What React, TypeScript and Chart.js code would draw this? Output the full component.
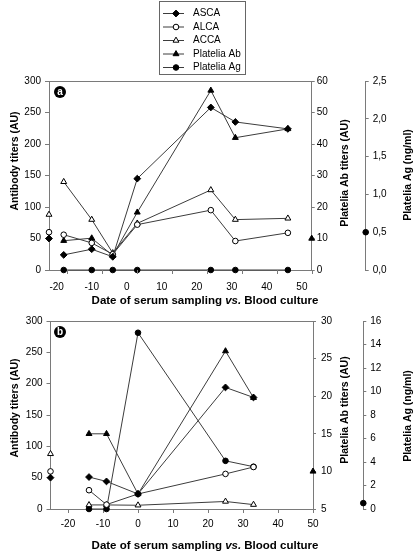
import React, { useEffect, useRef } from 'react';
import { Chart, registerables } from 'chart.js';
import { drawPoint } from 'chart.js/helpers';

Chart.register(...registerables);

const FONT = "'Liberation Sans', Arial, Helvetica, sans-serif";
const AXIS_COLOR = '#7a7a7a';
const LINE_COLOR = '#3c3c3c';

// ---------- Panel a data ----------
const DAYS_A = [-18, -10, -4, 3, 24, 31, 46];
const ASCA_A = [24, 33, 21, 145, 258, 235, 224];
const ALCA_A = [56, 43, 25, 72, 95, 46, 59];
const ACCA_A = [140, 80, 27, 74, 127, 80, 82];
const PLATELIA_AB_A = [9.3, 10.1, 4.6, 18.3, 57, 42, 44.8];
const PLATELIA_AG_A = [0, 0, 0, 0, 0, 0, 0];

// ---------- Panel b data ----------
const DAYS_B = [-14, -9, 0, 25, 33];
const ASCA_B = [51, 44, 24, 194, 178];
const ALCA_B = [30, 7, 24, 56, 67];
const ACCA_B = [6.5, 6.5, 6, 12, 7];
const PLATELIA_AB_B = [15, 15, 7, 26, 19.8];
const PLATELIA_AG_B = [0, 0, 15, 4.1, 3.6];

// ---------- cut-off values (markers on the axes) ----------
const CUTOFF_ASCA = 50;
const CUTOFF_ALCA = 60;
const CUTOFF_ACCA = 88;
const CUTOFF_AB = 10;
const CUTOFF_AG = 0.5;

// ---------- tick labels ----------
const X_TICKS = [-20, -10, 0, 10, 20, 30, 40, 50];
const LEFT_TICKS = [0, 50, 100, 150, 200, 250, 300];
const AB_TICKS_A = [0, 10, 20, 30, 40, 50, 60];
const AG_TICKS_A = [0, 0.5, 1, 1.5, 2, 2.5];
const AB_TICKS_B = [5, 10, 15, 20, 25, 30];
const AG_TICKS_B = [0, 2, 4, 6, 8, 10, 12, 14, 16];

const SERIES_LABELS = ['ASCA', 'ALCA', 'ACCA', 'Platelia Ab', 'Platelia Ag'];

type St = { pointStyle: string; radius: number; filled: boolean };
const STYLES: St[] = [
  { pointStyle: 'rectRot', radius: 3.4, filled: true },
  { pointStyle: 'circle', radius: 2.8, filled: false },
  { pointStyle: 'triangle', radius: 3.4, filled: false },
  { pointStyle: 'triangle', radius: 3.4, filled: true },
  { pointStyle: 'circle', radius: 2.8, filled: true },
];

function series(label: string, days: number[], values: number[], st: St, yAxisID: string) {
  return {
    label,
    data: days.map((d, i) => ({ x: d, y: values[i] })),
    showLine: true,
    borderColor: LINE_COLOR,
    borderWidth: 1,
    pointStyle: st.pointStyle,
    pointRadius: st.radius,
    pointBackgroundColor: st.filled ? '#000' : '#fff',
    pointBorderColor: '#000',
    pointBorderWidth: 1,
    yAxisID,
    clip: false,
  };
}

function cutoff(label: string, x: number, y: number, st: St, yAxisID: string) {
  return {
    label,
    data: [{ x, y }],
    showLine: false,
    pointStyle: st.pointStyle,
    pointRadius: st.radius,
    pointBackgroundColor: st.filled ? '#000' : '#fff',
    pointBorderColor: '#000',
    pointBorderWidth: 1,
    yAxisID,
    clip: false,
  };
}

type Panel = {
  letter: string;
  canvasTop: number;
  canvasHeight: number;
  padTop: number;
  leftW: number;
  abW: number;
  agW: number;
  xH: number;
  xMin: number;
  xMax: number;
  xTickShift: number | null;
  xLabelPad: number;
  days: number[];
  asca: number[];
  alca: number[];
  acca: number[];
  ab: number[];
  ag: number[];
  abMin: number;
  abMax: number;
  abTicks: number[];
  abPad: number;
  agMax: number;
  agTicks: number[];
  agComma: boolean;
  leftTitleY: number;
  abTitleY: number;
  agTitleY: number;
  xTitleY: number;
  letterPos: [number, number];
  legend: boolean;
};

const PANELS: Panel[] = [
  {
    letter: 'a', canvasTop: 0, canvasHeight: 310, padTop: 81,
    leftW: 49, abW: 54, agW: 47.3, xH: 40,
    xMin: -22.2, xMax: 52.8, xTickShift: 3, xLabelPad: 7,
    days: DAYS_A, asca: ASCA_A, alca: ALCA_A, acca: ACCA_A, ab: PLATELIA_AB_A, ag: PLATELIA_AG_A,
    abMin: 0, abMax: 60, abTicks: AB_TICKS_A, abPad: 2,
    agMax: 2.5, agTicks: AG_TICKS_A, agComma: true,
    leftTitleY: 161, abTitleY: 173, agTitleY: 175, xTitleY: 301,
    letterPos: [60, 92], legend: true,
  },
  {
    letter: 'b', canvasTop: 310, canvasHeight: 243, padTop: 10,
    leftW: 50.5, abW: 50.3, agW: 49.7, xH: 44,
    xMin: -25, xMax: 50, xTickShift: null, xLabelPad: 5,
    days: DAYS_B, asca: ASCA_B, alca: ALCA_B, acca: ACCA_B, ab: PLATELIA_AB_B, ag: PLATELIA_AG_B,
    abMin: 5, abMax: 30, abTicks: AB_TICKS_B, abPad: 5,
    agMax: 16, agTicks: AG_TICKS_B, agComma: false,
    leftTitleY: 408, abTitleY: 410, agTitleY: 416, xTitleY: 546,
    letterPos: [60, 332], legend: false,
  },
];

function rotText(ctx: CanvasRenderingContext2D, text: string, x: number, y: number, font: string) {
  ctx.save();
  ctx.translate(x, y);
  ctx.rotate(-Math.PI / 2);
  ctx.font = font;
  ctx.fillStyle = '#000';
  ctx.textAlign = 'center';
  ctx.textBaseline = 'middle';
  ctx.fillText(text, 0, 0);
  ctx.restore();
}

function marker(ctx: CanvasRenderingContext2D, st: St, x: number, y: number) {
  ctx.save();
  ctx.fillStyle = st.filled ? '#000' : '#fff';
  ctx.strokeStyle = '#000';
  ctx.lineWidth = 1;
  drawPoint(ctx, { pointStyle: st.pointStyle as any, radius: st.radius, borderWidth: 1, rotation: 0 } as any, x, y);
  ctx.restore();
}

function decorPlugin(p: Panel) {
  return {
    id: 'decor_' + p.letter,
    afterDraw(chart: any) {
      const ctx: CanvasRenderingContext2D = chart.ctx;
      const ca = chart.chartArea;
      const off = p.canvasTop;
      ctx.save();
      ctx.strokeStyle = AXIS_COLOR;
      ctx.lineWidth = 1;
      // top frame line
      const ty = Math.round(ca.top) + 0.5;
      ctx.beginPath();
      ctx.moveTo(ca.left, ty);
      ctx.lineTo(ca.right, ty);
      ctx.stroke();
      // shifted tick marks on x axis (panel a)
      if (p.xTickShift !== null) {
        const xs = chart.scales.x;
        for (const v of X_TICKS) {
          const val = v + p.xTickShift;
          if (val > p.xMax + 0.5) continue;
          const px = Math.round(xs.getPixelForValue(Math.min(val, p.xMax))) + 0.5;
          ctx.beginPath();
          ctx.moveTo(px, ca.bottom);
          ctx.lineTo(px, ca.bottom + 4);
          ctx.stroke();
        }
      }
      // panel letter
      const [lx, ly] = p.letterPos;
      ctx.fillStyle = '#000';
      ctx.beginPath();
      ctx.arc(lx, ly - off, 6, 0, Math.PI * 2);
      ctx.fill();
      ctx.fillStyle = '#fff';
      ctx.font = `bold 10px ${FONT}`;
      ctx.textAlign = 'center';
      ctx.textBaseline = 'middle';
      ctx.fillText(p.letter, lx, ly - off + 0.5);
      // axis titles
      const tfont = `bold 10.5px ${FONT}`;
      rotText(ctx, 'Antibody titers (AU)', 15, p.leftTitleY - off, tfont);
      rotText(ctx, 'Platelia Ab titers (AU)', 345, p.abTitleY - off, tfont);
      rotText(ctx, 'Platelia Ag (ng/ml)', 408, p.agTitleY - off, tfont);
      // x title with italic "vs."
      const fB = `bold 11.5px ${FONT}`;
      const fI = `italic bold 11.5px ${FONT}`;
      const parts: [string, string][] = [
        ['Date of serum sampling ', fB],
        ['vs.', fI],
        [' Blood culture', fB],
      ];
      let total = 0;
      for (const [t, f] of parts) { ctx.font = f; total += ctx.measureText(t).width; }
      let x = 205 - total / 2;
      ctx.fillStyle = '#000';
      ctx.textAlign = 'left';
      ctx.textBaseline = 'middle';
      for (const [t, f] of parts) {
        ctx.font = f;
        ctx.fillText(t, x, p.xTitleY - off);
        x += ctx.measureText(t).width;
      }
      // Ag cut-off on the Ag axis
      const yAg = chart.scales.yAg;
      marker(ctx, STYLES[4], yAg.left, yAg.getPixelForValue(CUTOFF_AG));
      // legend
      if (p.legend) {
        ctx.strokeStyle = '#666';
        ctx.lineWidth = 1;
        ctx.strokeRect(159.5, 1.5, 86, 73);
        ctx.font = `10px ${FONT}`;
        ctx.textAlign = 'left';
        ctx.textBaseline = 'middle';
        SERIES_LABELS.forEach((lab, i) => {
          const y = 13.5 + i * 13.5;
          ctx.strokeStyle = LINE_COLOR;
          ctx.beginPath();
          ctx.moveTo(163, y);
          ctx.lineTo(184, y);
          ctx.stroke();
          marker(ctx, STYLES[i], 176, y);
          ctx.fillStyle = '#000';
          ctx.fillText(lab, 193, y);
        });
      }
      ctx.restore();
    },
  };
}

function makeConfig(p: Panel): any {
  const datasets = [
    series(SERIES_LABELS[0], p.days, p.asca, STYLES[0], 'y'),
    series(SERIES_LABELS[1], p.days, p.alca, STYLES[1], 'y'),
    series(SERIES_LABELS[2], p.days, p.acca, STYLES[2], 'y'),
    series(SERIES_LABELS[3], p.days, p.ab, STYLES[3], 'yAb'),
    series(SERIES_LABELS[4], p.days, p.ag, STYLES[4], 'yAg'),
    cutoff('ASCA cut-off', p.xMin, CUTOFF_ASCA, STYLES[0], 'y'),
    cutoff('ALCA cut-off', p.xMin, CUTOFF_ALCA, STYLES[1], 'y'),
    cutoff('ACCA cut-off', p.xMin, CUTOFF_ACCA, STYLES[2], 'y'),
    cutoff('Platelia Ab cut-off', p.xMax, CUTOFF_AB, STYLES[3], 'yAb'),
  ];
  const gridCommon = { drawOnChartArea: false, color: AXIS_COLOR, tickLength: 4 };
  const border = { display: true, color: AXIS_COLOR, width: 1 };
  const tickFont = { family: FONT, size: 10 };
  return {
    type: 'scatter',
    data: { datasets },
    options: {
      responsive: false,
      animation: false,
      devicePixelRatio: 1,
      layout: { padding: { top: p.padTop, left: 0, right: 0, bottom: 0 } },
      plugins: { legend: { display: false }, tooltip: { enabled: false } },
      scales: {
        x: {
          type: 'linear', position: 'bottom', min: p.xMin, max: p.xMax,
          afterBuildTicks: (s: any) => { s.ticks = X_TICKS.map((v) => ({ value: v })); },
          afterFit: (s: any) => { s.height = p.xH; },
          ticks: { font: tickFont, color: '#000', padding: p.xLabelPad, maxRotation: 0 },
          grid: { ...gridCommon, color: p.xTickShift !== null ? 'rgba(0,0,0,0)' : AXIS_COLOR },
          border,
        },
        y: {
          type: 'linear', position: 'left', min: 0, max: 300,
          afterBuildTicks: (s: any) => { s.ticks = LEFT_TICKS.map((v) => ({ value: v })); },
          afterFit: (s: any) => { s.width = p.leftW; },
          ticks: { font: tickFont, color: '#000', padding: 4 },
          grid: gridCommon,
          border,
        },
        yAb: {
          type: 'linear', position: 'right', weight: 1, min: p.abMin, max: p.abMax,
          afterBuildTicks: (s: any) => { s.ticks = p.abTicks.map((v) => ({ value: v })); },
          afterFit: (s: any) => { s.width = p.abW; },
          ticks: { font: tickFont, color: '#000', padding: p.abPad },
          grid: { ...gridCommon, tickLength: 3 },
          border,
        },
        yAg: {
          type: 'linear', position: 'right', weight: 2, min: 0, max: p.agMax,
          afterBuildTicks: (s: any) => { s.ticks = p.agTicks.map((v) => ({ value: v })); },
          afterFit: (s: any) => { s.width = p.agW; },
          ticks: {
            font: tickFont, color: '#000', padding: 4,
            callback: (v: any) => (p.agComma ? Number(v).toFixed(1).replace('.', ',') : String(v)),
          },
          grid: { ...gridCommon, tickLength: 3 },
          border,
        },
      },
    },
    plugins: [decorPlugin(p)],
  };
}

function PanelChart({ p }: { p: Panel }) {
  const ref = useRef<HTMLCanvasElement | null>(null);
  useEffect(() => {
    if (!ref.current) return;
    const chart = new Chart(ref.current, makeConfig(p));
    return () => chart.destroy();
  }, [p]);
  return (
    <canvas
      ref={ref}
      width={413}
      height={p.canvasHeight}
      style={{ position: 'absolute', left: 0, top: p.canvasTop, width: 413, height: p.canvasHeight, display: 'block' }}
    />
  );
}

export default function App() {
  return (
    <div style={{ position: 'absolute', left: 0, top: 0, width: 413, height: 553, background: '#fff', overflow: 'hidden' }}>
      {PANELS.map((p) => (
        <PanelChart key={p.letter} p={p} />
      ))}
    </div>
  );
}
